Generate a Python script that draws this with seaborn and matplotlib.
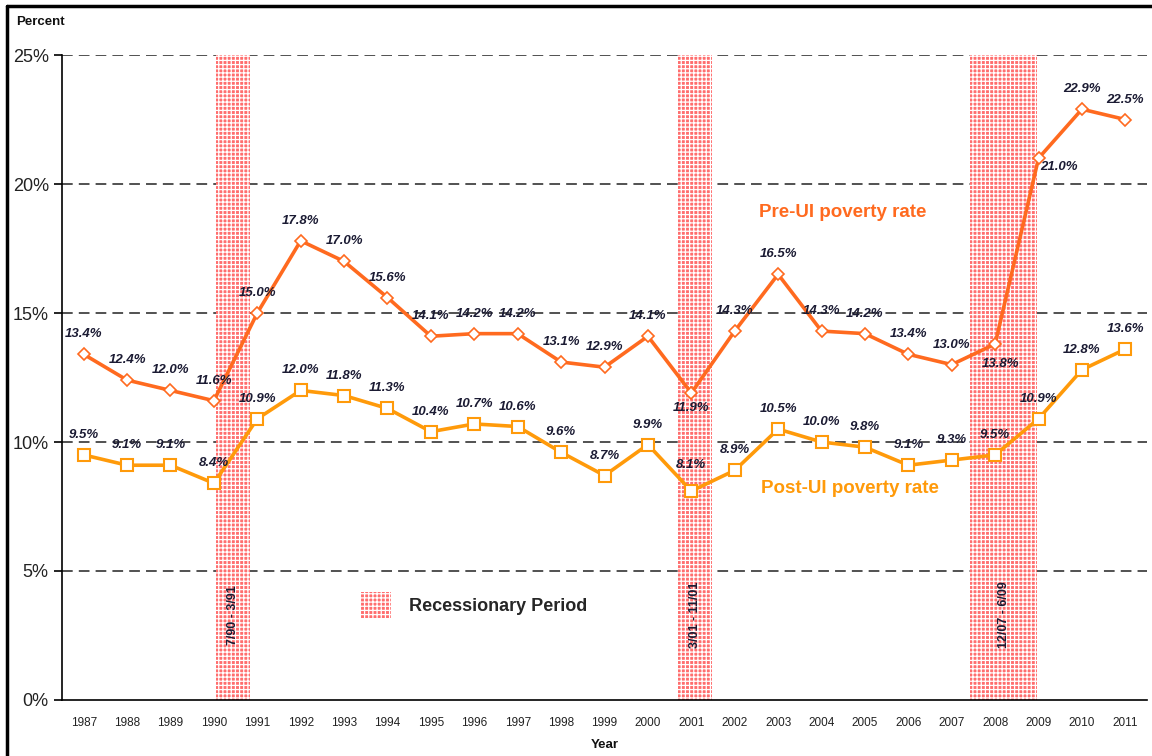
import pandas as pd
import matplotlib.pyplot as plt
import seaborn as sns
from matplotlib.patches import Rectangle
from matplotlib.lines import Line2D

# chart values
years = list(range(1987, 2012))
pre_ui = [13.4, 12.4, 12.0, 11.6, 15.0, 17.8, 17.0, 15.6, 14.1, 14.2, 14.2, 13.1, 12.9,
          14.1, 11.9, 14.3, 16.5, 14.3, 14.2, 13.4, 13.0, 13.8, 21.0, 22.9, 22.5]
post_ui = [9.5, 9.1, 9.1, 8.4, 10.9, 12.0, 11.8, 11.3, 10.4, 10.7, 10.6, 9.6, 8.7,
           9.9, 8.1, 8.9, 10.5, 10.0, 9.8, 9.1, 9.3, 9.5, 10.9, 12.8, 13.6]

# recession bands as drawn on the chart (in year units)
rec_start = [1990.05, 2000.70, 2007.42]
rec_end = [1990.83, 2001.48, 2008.97]
rec_labels = ['7/90 - 3/91', '3/01 - 11/01', '12/07 - 6/09']

y_ticks = [0, 5, 10, 15, 20, 25]

df = pd.DataFrame({'year': years, 'pre': pre_ui, 'post': post_ui})

sns.set_style('white')
plt.rcParams['font.family'] = ['Liberation Sans', 'DejaVu Sans']
plt.rcParams['hatch.linewidth'] = 0.9

pre_color = '#ff6a1f'
post_color = '#ff9a0a'
label_color = '#1b1b33'
rec_color = '#ff6e6e'

fig = plt.figure(figsize=(11.52, 7.56), dpi=100)
ax = fig.add_axes([0.0538, 0.0741, 0.9419, 0.8531])

# recession periods
for s, e, lab in zip(rec_start, rec_end, rec_labels):
    ax.axvspan(s, e, facecolor=rec_color, edgecolor='white', hatch='++++', lw=0, zorder=1)
    ax.text((s + e) / 2, 3.3, lab, rotation=90, ha='center', va='center',
            fontsize=9, fontweight='bold', color=label_color, zorder=2)

# dashed gridlines
for yv in y_ticks[1:]:
    ax.axhline(yv, color='#222222', lw=1.1, linestyle=(0, (7, 4)), zorder=0)

sns.lineplot(data=df, x='year', y='pre', ax=ax, color=pre_color, lw=2.6,
             marker='D', markersize=6, markerfacecolor='white',
             markeredgecolor=pre_color, markeredgewidth=1.2, zorder=4)
sns.lineplot(data=df, x='year', y='post', ax=ax, color=post_color, lw=2.6,
             marker='s', markersize=9, markerfacecolor='white',
             markeredgecolor=post_color, markeredgewidth=1.5, zorder=3)

# data labels
pre_off = {21: (5, -20), 22: (20, -9), 14: (0, -15)}
post_off = {14: (0, 26)}
for i, (yr, v) in enumerate(zip(years, pre_ui)):
    dx, dy = pre_off.get(i, (0, 20))
    ax.annotate(f'{v:.1f}%', (yr, v), xytext=(dx, dy), textcoords='offset pixels',
                ha='center', va='center', fontsize=9.5, fontweight='bold',
                fontstyle='italic', color=label_color, zorder=5)
for i, (yr, v) in enumerate(zip(years, post_ui)):
    dx, dy = post_off.get(i, (0, 20))
    ax.annotate(f'{v:.1f}%', (yr, v), xytext=(dx, dy), textcoords='offset pixels',
                ha='center', va='center', fontsize=9.5, fontweight='bold',
                fontstyle='italic', color=label_color, zorder=5)

ax.text(2002.55, 18.9, 'Pre-UI poverty rate', fontsize=13.5, fontweight='bold',
        color=pre_color, va='center', ha='left')
ax.text(2002.6, 8.2, 'Post-UI poverty rate', fontsize=13.5, fontweight='bold',
        color=post_color, va='center', ha='left')

# legend for recession shading
leg = [Rectangle((0, 0), 1, 1, facecolor=rec_color, edgecolor='white', hatch='++++', lw=0)]
ax.legend(leg, ['Recessionary Period'], loc='center left', bbox_to_anchor=(0.26, 0.147),
          frameon=False, handlelength=1.7, handleheight=1.8, handletextpad=1.0,
          prop={'size': 13, 'weight': 'bold'})

ax.set_xlim(1986.5, 2011.5)
ax.set_ylim(0, 25)
ax.set_xticks(years)
ax.set_xticklabels([str(y) for y in years], fontsize=8.5, color='#222222')
ax.set_xticks([y + 0.5 for y in [years[0] - 1] + years], minor=True)
ax.tick_params(axis='x', which='major', length=0, pad=12)
ax.tick_params(axis='x', which='minor', length=5, width=1.2, direction='out', color='black')
ax.set_yticks(y_ticks)
ax.set_yticklabels([f'{v}%' for v in y_ticks], fontsize=13, color='#222222')
ax.tick_params(axis='y', length=6, width=1.2, direction='out', color='black', left=True)
ax.set_xlabel('')
ax.set_ylabel('')
for side in ['top', 'right']:
    ax.spines[side].set_visible(False)
for side in ['left', 'bottom']:
    ax.spines[side].set_color('black')
    ax.spines[side].set_linewidth(1.2)

fig.text(16 / 1152, 1 - 22 / 756, 'Percent', fontsize=9.5, fontweight='bold',
         ha='left', va='center', color='#111111')
fig.text(605 / 1152, 1 - 745 / 756, 'Year', fontsize=9.5, fontweight='bold',
         ha='center', va='center', color='#111111')

# outer frame (left and top)
fig.add_artist(Line2D([7 / 1152, 7 / 1152], [0, 1 - 6 / 756], color='black', lw=2.5))
fig.add_artist(Line2D([7 / 1152, 1], [1 - 6 / 756, 1 - 6 / 756], color='black', lw=2.5))

fig.savefig('out.png', dpi=100)
